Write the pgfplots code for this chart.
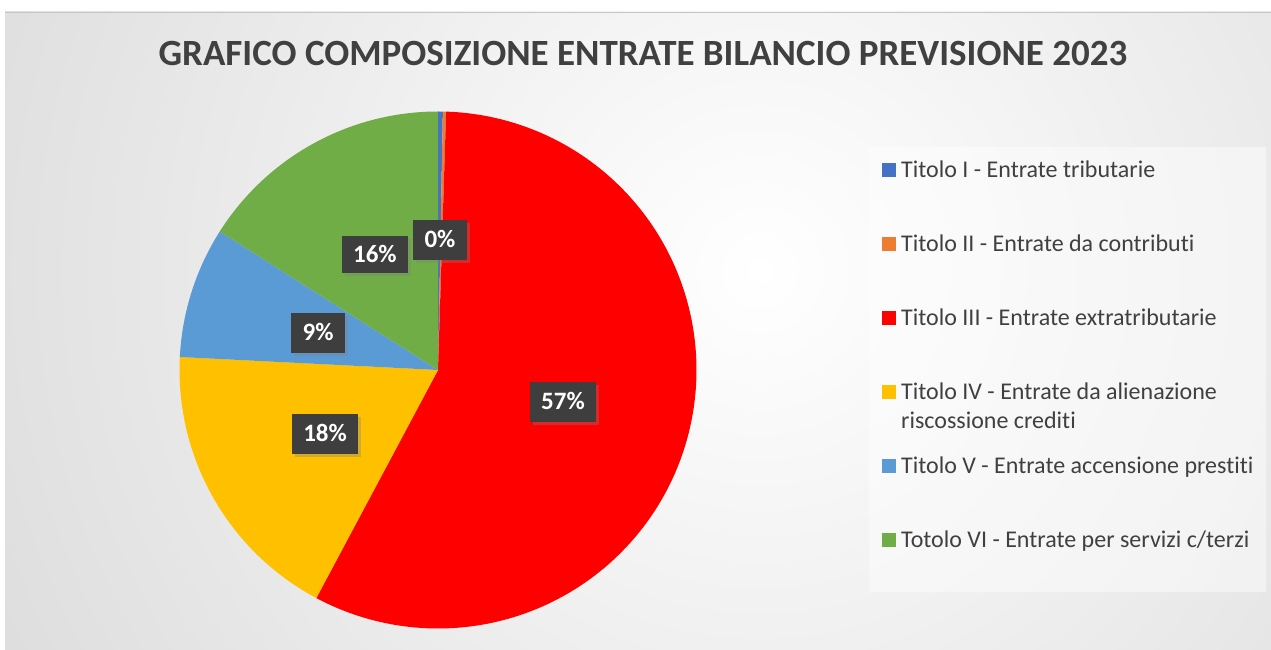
\documentclass[border=0pt]{standalone}
\usepackage{fontspec}
\setmainfont{Carlito}[Ligatures={NoCommon}]
\usepackage{pgfplots}
\usepackage{pgfplotstable}
\pgfplotsset{compat=1.18}
\usetikzlibrary{shadows}

\definecolor{cI}{HTML}{4472C4}
\definecolor{cII}{HTML}{ED7D31}
\definecolor{cIII}{HTML}{FF0000}
\definecolor{cIV}{HTML}{FFC000}
\definecolor{cV}{HTML}{5B9BD5}
\definecolor{cVI}{HTML}{70AD47}
\definecolor{txtgray}{HTML}{404040}
\definecolor{lblgray}{HTML}{3E3E3E}
\definecolor{bgout}{HTML}{C0C0C0}

% shares of the revenue (percent), clockwise from 12 o'clock
\pgfplotstableread{
name value
I 0.3
II 0.2
III 57.3
IV 18.0
V 8.2
VI 16.0
}\piedata

\begin{document}
\begin{tikzpicture}[x=1pt,y=1pt]
\useasboundingbox (0,0) rectangle (1271,650);
\fill[white] (0,0) rectangle (1271,650);
\begin{scope}
  \clip (5,0) rectangle (1271,638);
  \shade[inner color=white, outer color=bgout] (760,380) circle (1600);
\end{scope}
\draw[gray!45, line width=0.8pt] (5,638) -- (1271,638);
% legend background
\fill[white, opacity=0.45] (869,58) rectangle (1266,503);
% title
\node[anchor=base, text=txtgray, font=\bfseries\fontsize{37}{42}\selectfont] at (643,584)
  {GRAFICO COMPOSIZIONE ENTRATE BILANCIO PREVISIONE 2023};

% angles from the data
\pgfplotstablegetelem{0}{value}\of\piedata \let\vA\pgfplotsretval
\pgfplotstablegetelem{1}{value}\of\piedata \let\vB\pgfplotsretval
\pgfplotstablegetelem{2}{value}\of\piedata \let\vC\pgfplotsretval
\pgfplotstablegetelem{3}{value}\of\piedata \let\vD\pgfplotsretval
\pgfplotstablegetelem{4}{value}\of\piedata \let\vE\pgfplotsretval
\pgfplotstablegetelem{5}{value}\of\piedata \let\vF\pgfplotsretval
\pgfmathsetmacro\aZ{90}
\pgfmathsetmacro\aA{\aZ-3.6*\vA}
\pgfmathsetmacro\aB{\aA-3.6*\vB}
\pgfmathsetmacro\aC{\aB-3.6*\vC}
\pgfmathsetmacro\aD{\aC-3.6*\vD}
\pgfmathsetmacro\aE{\aD-3.6*\vE}
\pgfmathsetmacro\aF{\aE-3.6*\vF}

\begin{axis}[
  at={(179.5pt,21.5pt)}, anchor=south west,
  scale only axis, width=517pt, height=517pt,
  xmin=-1, xmax=1, ymin=-1, ymax=1,
  hide axis, clip=false,
  legend cell align=left,
  legend image code/.code={\fill[#1] (0pt,-7pt) rectangle (14pt,7pt);},
  legend style={
    at={(1.3588,0.9101)}, anchor=north west,
    draw=none, fill=none, inner sep=0pt,
    row sep=50pt, column sep=5pt,
    font=\fontsize{24}{29}\selectfont, text=txtgray,
    nodes={inner sep=0pt, text height=19pt, text depth=5pt},
  },
]
\addplot[fill=cI, draw=none, domain=\aA:\aZ, samples=8] ({cos(x)},{sin(x)}) -- (0,0) -- cycle;
\addlegendentry{Titolo I - Entrate tributarie}
\addplot[fill=cII, draw=none, domain=\aB:\aA, samples=8] ({cos(x)},{sin(x)}) -- (0,0) -- cycle;
\addlegendentry{Titolo II - Entrate da contributi}
\addplot[fill=cIII, draw=none, domain=\aC:\aB, samples=180] ({cos(x)},{sin(x)}) -- (0,0) -- cycle;
\addlegendentry{Titolo III - Entrate extratributarie}
\addplot[fill=cIV, draw=none, domain=\aD:\aC, samples=70] ({cos(x)},{sin(x)}) -- (0,0) -- cycle;
\addlegendentry{\smash{\parbox[t]{330pt}{Titolo IV - Entrate da alienazione\\riscossione crediti}}}
\addplot[fill=cV, draw=none, domain=\aE:\aD, samples=40] ({cos(x)},{sin(x)}) -- (0,0) -- cycle;
\addlegendentry{Titolo V - Entrate accensione prestiti}
\addplot[fill=cVI, draw=none, domain=\aF:\aE, samples=70] ({cos(x)},{sin(x)}) -- (0,0) -- cycle;
\addlegendentry{Totolo VI - Entrate per servizi c/terzi}

\tikzset{lbl/.style={fill=lblgray, text=white, font=\bfseries\fontsize{25}{30}\selectfont,
  inner xsep=11.5pt, minimum height=40pt, text height=16pt, text depth=1pt,
  drop shadow={shadow xshift=3pt, shadow yshift=-3pt, opacity=0.35}}}
\node[lbl] at (axis cs:0.0077,0.503) {0\%};
\node[lbl, minimum height=37pt] at (axis cs:-0.244,0.445) {16\%};
\node[lbl] at (axis cs:-0.464,0.143) {9\%};
\node[lbl] at (axis cs:-0.437,-0.248) {18\%};
\node[lbl] at (axis cs:0.4836,-0.124) {57\%};
\end{axis}
\end{tikzpicture}
\end{document}
